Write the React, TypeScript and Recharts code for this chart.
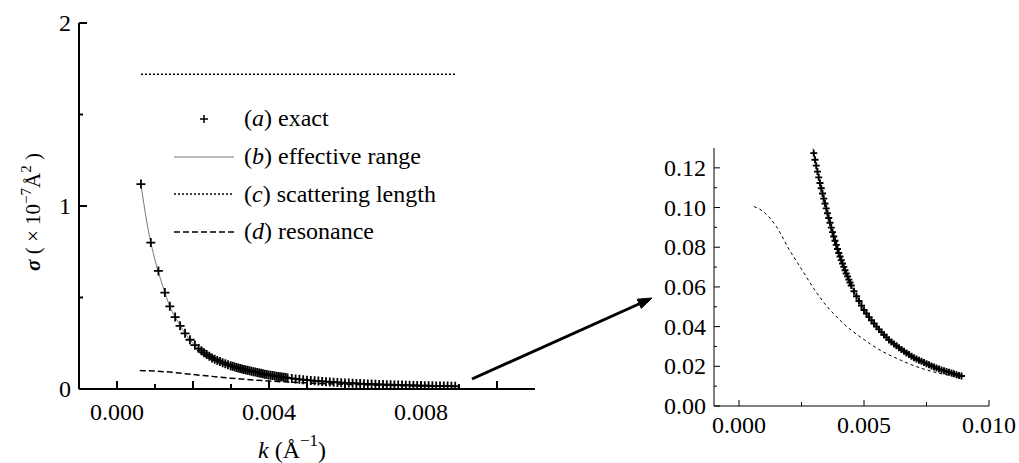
import React from 'react';
import { ComposedChart, Line, Scatter, XAxis, YAxis, Legend } from 'recharts';

// (a) exact cross section, k in 1/Å, sigma in 1e-7 Å^2
const exactK = [
  0.00063, 0.00089, 0.00109, 0.00126, 0.00139, 0.00153, 0.00166, 0.00179, 0.00192, 0.00205,
  0.00215, 0.00222, 0.00229, 0.00236, 0.00243, 0.0025, 0.00257, 0.00264, 0.00271, 0.00278, 0.00285, 0.00292, 0.00299,
  0.00304, 0.00309, 0.00314, 0.00319, 0.00324, 0.00329, 0.00334, 0.00339, 0.00344, 0.00349,
  0.00354, 0.00359, 0.00364, 0.00369, 0.00374, 0.00379, 0.00384, 0.00389, 0.00394, 0.00399,
  0.00404, 0.00409, 0.00414, 0.00419, 0.00424, 0.00429, 0.00434, 0.00439, 0.00444, 0.00449,
  0.0046, 0.0047, 0.0048, 0.0049, 0.005, 0.0051, 0.0052, 0.0053, 0.0054, 0.0055,
  0.0056, 0.0057, 0.0058, 0.0059, 0.006, 0.0061, 0.0062, 0.0063, 0.0064, 0.0065,
  0.0066, 0.0067, 0.0068, 0.0069, 0.007, 0.0071, 0.0072, 0.0073, 0.0074, 0.0075,
  0.0076, 0.0077, 0.0078, 0.0079, 0.008, 0.0081, 0.0082, 0.0083, 0.0084, 0.0085,
  0.0086, 0.0087, 0.0088, 0.0089,
];
const exactSigma = [
  1.12, 0.8, 0.645, 0.527, 0.452, 0.393, 0.345, 0.304, 0.269, 0.24,
  0.221, 0.2095, 0.1987, 0.1886, 0.179, 0.17, 0.1626, 0.156, 0.1498, 0.1439, 0.1382, 0.1325, 0.1274,
  0.1241, 0.1211, 0.1181, 0.1152, 0.1124, 0.1097, 0.1071, 0.1045, 0.102, 0.0996,
  0.0971, 0.0947, 0.0923, 0.0899, 0.0876, 0.0854, 0.0833, 0.0812, 0.0791, 0.0771,
  0.0753, 0.0735, 0.0718, 0.0701, 0.0684, 0.0668, 0.0653, 0.0637, 0.0622, 0.0607,
  0.0578, 0.0553, 0.0529, 0.0506, 0.0484, 0.0466, 0.0448, 0.0432, 0.0416, 0.04,
  0.0386, 0.0372, 0.0359, 0.0346, 0.0333, 0.0323, 0.0313, 0.0303, 0.0294, 0.0285,
  0.0276, 0.0267, 0.0259, 0.0251, 0.0243, 0.0237, 0.0231, 0.0225, 0.0219, 0.0213,
  0.0208, 0.0202, 0.0197, 0.0191, 0.0186, 0.0182, 0.0178, 0.0174, 0.017, 0.0166,
  0.0162, 0.0158, 0.0154, 0.0151,
];

// (b) effective range approximation
const effK = [
  0.00063, 0.0008, 0.001, 0.0012, 0.0014, 0.0016, 0.0018, 0.002, 0.0023, 0.0026,
  0.003, 0.0035, 0.004, 0.0045, 0.005, 0.0055, 0.006, 0.0065, 0.007, 0.0075,
  0.008, 0.0085, 0.0089,
];
const effSigma = [
  1.12, 0.894, 0.705, 0.565, 0.446, 0.368, 0.301, 0.25, 0.197, 0.16,
  0.127, 0.0991, 0.0768, 0.0604, 0.0484, 0.04, 0.0333, 0.0285, 0.0243, 0.0213,
  0.0186, 0.0166, 0.0151,
];

// (c) scattering length (constant)
const scatK = [0.00063, 0.0089];
const scatSigma = [1.72, 1.72];

// (d) resonance
const resK = [
  0.0006, 0.001, 0.0015, 0.002, 0.0025, 0.003, 0.0035, 0.004, 0.0045,
  0.005, 0.0055, 0.006, 0.0065, 0.007, 0.0075, 0.008, 0.0085, 0.0089,
];
const resSigma = [
  0.1005, 0.0977, 0.0903, 0.079, 0.069, 0.059, 0.0505, 0.0437, 0.0381,
  0.0335, 0.0292, 0.0258, 0.0229, 0.0203, 0.0182, 0.0165, 0.0152, 0.0143,
];

// axis ticks
const mainXTicks = [0, 0.001, 0.002, 0.003, 0.004, 0.005, 0.006, 0.007, 0.008, 0.009, 0.01];
const mainXLabels = [0, 0.004, 0.008];
const mainYTicks = [0, 0.5, 1, 1.5, 2];
const mainYLabels = [0, 1, 2];
const insetXTicks = [0, 0.0025, 0.005, 0.0075, 0.01];
const insetXLabels = [0, 0.005, 0.01];
const insetYTicks = [0, 0.01, 0.02, 0.03, 0.04, 0.05, 0.06, 0.07, 0.08, 0.09, 0.1, 0.11, 0.12];
const insetYLabels = [0, 0.02, 0.04, 0.06, 0.08, 0.1, 0.12];

const legendRows = [
  { tag: 'a', text: 'exact', kind: 'cross' },
  { tag: 'b', text: 'effective range', kind: 'solid' },
  { tag: 'c', text: 'scattering length', kind: 'dotted' },
  { tag: 'd', text: 'resonance', kind: 'dashed' },
];

const FONT = "'Liberation Serif', 'DejaVu Serif', serif";

const zip = (ks: number[], ss: number[]) => ks.map((k, i) => ({ k, s: ss[i] }));
const exactData = zip(exactK, exactSigma);
const effData = zip(effK, effSigma);
const scatData = zip(scatK, scatSigma);
const resData = zip(resK, resSigma);
const insetExact = exactData.filter((d) => d.s <= 0.135);

const has = (list: number[], v: number) => list.some((l) => Math.abs(l - v) < 1e-9);

const crossShape = (size: number, width: number) => (props: any) => {
  const { cx, cy } = props;
  if (cx == null || cy == null) return <g />;
  return (
    <path
      d={`M${cx - size},${cy}H${cx + size}M${cx},${cy - size}V${cy + size}`}
      stroke="#000"
      strokeWidth={width}
      fill="none"
    />
  );
};

// tick renderers: tick marks point into the plot, labels only on some
const xTick = (labels: number[], majors: number[], digits: number, long: number, short: number, sw: number, dy: number) =>
  (props: any) => {
    const { x, y, payload } = props;
    const v = payload.value;
    const len = has(majors, v) ? long : short;
    return (
      <g>
        <line x1={x} x2={x} y1={y} y2={y - len} stroke="#000" strokeWidth={sw} />
        {has(labels, v) && (
          <text x={x} y={y + dy} textAnchor="middle" fontSize={24} fontFamily={FONT} fill="#000">
            {v.toFixed(digits)}
          </text>
        )}
      </g>
    );
  };

const yTick = (labels: number[], digits: number, long: number, short: number, sw: number) =>
  (props: any) => {
    const { x, y, payload } = props;
    const v = payload.value;
    const isLab = has(labels, v);
    return (
      <g>
        <line x1={x} x2={x + (isLab ? long : short)} y1={y} y2={y} stroke="#000" strokeWidth={sw} />
        {isLab && (
          <text x={x - 8} y={y + 8} textAnchor="end" fontSize={24} fontFamily={FONT} fill="#000">
            {v.toFixed(digits)}
          </text>
        )}
      </g>
    );
  };

const renderLegend = () => (
  <div style={{ fontFamily: FONT, fontSize: 24, color: '#000' }}>
    {legendRows.map((r) => (
      <div key={r.tag} style={{ display: 'flex', alignItems: 'center', height: 37.7 }}>
        <svg width={60} height={20} style={{ marginRight: 10 }}>
          {r.kind === 'cross' && <path d="M26,10H34M30,6V14" stroke="#000" strokeWidth={1.5} />}
          {r.kind === 'solid' && <line x1={0} x2={60} y1={10} y2={10} stroke="#777" strokeWidth={1} />}
          {r.kind === 'dotted' && (
            <line x1={0} x2={60} y1={10} y2={10} stroke="#000" strokeWidth={1.5} strokeDasharray="2 2" />
          )}
          {r.kind === 'dashed' && (
            <line x1={0} x2={60} y1={10} y2={10} stroke="#000" strokeWidth={1.5} strokeDasharray="6 3" />
          )}
        </svg>
        <span style={{ whiteSpace: 'nowrap' }}>
          (<i>{r.tag}</i>) {r.text}
        </span>
      </div>
    ))}
  </div>
);

export default function App() {
  return (
    <div
      style={{
        position: 'absolute',
        left: 0,
        top: 0,
        width: 1019,
        height: 463,
        background: '#fff',
        fontFamily: FONT,
        overflow: 'hidden',
      }}
    >
      {/* main panel */}
      <div style={{ position: 'absolute', left: 0, top: 0 }}>
        <ComposedChart width={560} height={463} margin={{ top: 23, right: 25, bottom: 34, left: 19 }}>
          <XAxis
            dataKey="k"
            type="number"
            domain={[-0.001, 0.011]}
            allowDataOverflow
            ticks={mainXTicks}
            interval={0}
            tickSize={0}
            tickMargin={0}
            height={40}
            axisLine={{ stroke: '#000', strokeWidth: 2 }}
            tickLine={false}
            tick={xTick(mainXLabels, [0, 0.002, 0.004, 0.006, 0.008, 0.01], 3, 8, 5, 2, 31)}
          />
          <YAxis
            type="number"
            domain={[0, 2]}
            allowDataOverflow
            ticks={mainYTicks}
            interval={0}
            tickSize={0}
            tickMargin={0}
            width={60}
            axisLine={{ stroke: '#000', strokeWidth: 2 }}
            tickLine={false}
            tick={yTick(mainYLabels, 0, 8, 4, 2)}
          />
          <Legend
            layout="vertical"
            align="center"
            verticalAlign="middle"
            content={renderLegend}
            wrapperStyle={{ left: 174, top: 100, width: 320 }}
          />
          <Line data={scatData} dataKey="s" type="linear" stroke="#000" strokeWidth={1.5} strokeDasharray="2 2" dot={false} isAnimationActive={false} />
          <Line data={resData} dataKey="s" type="monotone" stroke="#000" strokeWidth={1.5} strokeDasharray="6 3" dot={false} isAnimationActive={false} />
          <Line data={effData} dataKey="s" type="monotone" stroke="#777" strokeWidth={1} dot={false} isAnimationActive={false} />
          <Scatter data={exactData} dataKey="s" shape={crossShape(4.5, 1.8)} isAnimationActive={false} />
        </ComposedChart>
      </div>

      {/* zoomed panel */}
      <div style={{ position: 'absolute', left: 640, top: 120 }}>
        <ComposedChart width={379} height={343} margin={{ top: 28, right: 30, bottom: 17, left: 14 }}>
          <XAxis
            dataKey="k"
            type="number"
            domain={[-0.001, 0.01]}
            allowDataOverflow
            ticks={insetXTicks}
            interval={0}
            tickSize={0}
            tickMargin={0}
            height={40}
            axisLine={{ stroke: '#000', strokeWidth: 1 }}
            tickLine={false}
            tick={xTick(insetXLabels, insetXLabels, 3, 6, 4, 1, 27)}
          />
          <YAxis
            type="number"
            domain={[0, 0.13]}
            allowDataOverflow
            ticks={insetYTicks}
            interval={0}
            tickSize={0}
            tickMargin={0}
            width={60}
            axisLine={{ stroke: '#000', strokeWidth: 1 }}
            tickLine={false}
            tick={yTick(insetYLabels, 2, 6, 3, 1)}
          />
          <Line data={resData} dataKey="s" type="monotone" stroke="#000" strokeWidth={1} strokeDasharray="3 3" dot={false} isAnimationActive={false} />
          <Line data={effData} dataKey="s" type="monotone" stroke="#777" strokeWidth={1} dot={false} isAnimationActive={false} />
          <Scatter data={insetExact} dataKey="s" shape={crossShape(3.5, 1.9)} isAnimationActive={false} />
        </ComposedChart>
      </div>

      {/* axis titles and arrow */}
      <svg width={1019} height={463} style={{ position: 'absolute', left: 0, top: 0, pointerEvents: 'none' }}>
        <text transform="translate(40,212) rotate(-90)" textAnchor="middle" fontSize={21} fontFamily={FONT} fill="#000">
          <tspan fontStyle="italic" fontWeight="bold">σ</tspan>
          <tspan> ( × 10</tspan>
          <tspan dy={-9} fontSize={15}>−7</tspan>
          <tspan dy={9}>Å</tspan>
          <tspan dy={-9} fontSize={15}>2</tspan>
          <tspan dy={9}> )</tspan>
        </text>
        <text x={258} y={458} fontSize={24} fontFamily={FONT} fill="#000">
          <tspan fontStyle="italic">k</tspan>
          <tspan> (Å</tspan>
          <tspan dy={-12} fontSize={17}>−1</tspan>
          <tspan dy={12}>)</tspan>
        </text>
        <line x1={472} y1={379} x2={640} y2={303.5} stroke="#000" strokeWidth={3} />
        <polygon points="652,298 641.3,308.3 637.2,299.2" fill="#000" stroke="#000" strokeWidth={1} />
      </svg>
    </div>
  );
}
